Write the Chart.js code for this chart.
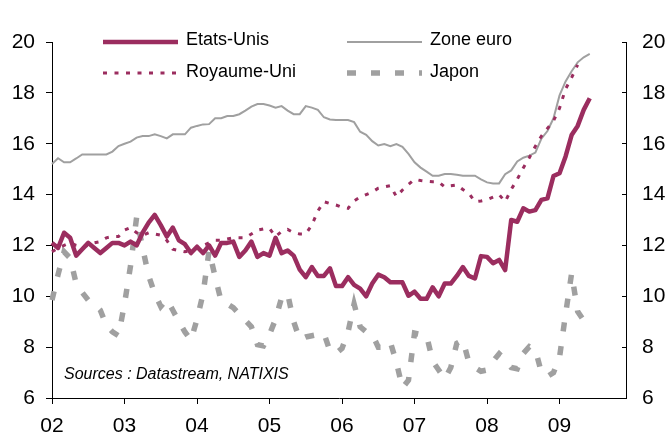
<!DOCTYPE html>
<html>
<head>
<meta charset="utf-8">
<script src="https://cdn.jsdelivr.net/npm/chart.js@4.4.1/dist/chart.umd.min.js"></script>
<style>
  html, body { margin: 0; padding: 0; background: #fff; }
  #wrap { width: 668px; height: 437px; }
</style>
</head>
<body>
<div id="wrap"><canvas id="savingChart" width="668" height="437"></canvas></div>
<script>
// Year tick labels (one tick every January, Jan 2002 .. Dec 2009 on the axis)
const yearTicks = ['02', '03', '04', '05', '06', '07', '08', '09'];

// Monthly values from Jan 2002
const usData = [12.1, 11.9, 12.5, 12.3, 11.6, 11.85, 12.1, 11.9, 11.7, 11.9, 12.1, 12.1,
  12.0, 12.15, 12.0, 12.5, 12.9, 13.2, 12.8, 12.35, 12.7, 12.2, 12.05, 11.7,
  11.95, 11.7, 12.0, 11.6, 12.1, 12.1, 12.15, 11.55, 11.8, 12.15, 11.55, 11.7,
  11.6, 12.3, 11.7, 11.8, 11.6, 11.05, 10.75, 11.15, 10.8, 10.8, 11.1, 10.4,
  10.4, 10.75, 10.45, 10.3, 10.0, 10.5, 10.85, 10.75, 10.55, 10.55, 10.55, 10.02,
  10.18, 9.9, 9.9, 10.35, 10.0, 10.5, 10.5, 10.8, 11.15, 10.8, 10.7, 11.58,
  11.55, 11.3, 11.43, 11.03, 13.0, 12.93, 13.46, 13.33, 13.39, 13.79, 13.85, 14.73,
  14.84, 15.5, 16.34, 16.7, 17.33, 17.79];

const euroData = [15.2, 15.43, 15.27, 15.27, 15.42, 15.58, 15.58, 15.58, 15.58, 15.58, 15.69, 15.91,
  16.0, 16.08, 16.24, 16.3, 16.3, 16.37, 16.3, 16.21, 16.37, 16.37, 16.37, 16.63,
  16.7, 16.76, 16.77, 17.0, 17.0, 17.09, 17.09, 17.16, 17.3, 17.46, 17.56, 17.56,
  17.5, 17.42, 17.48, 17.3, 17.16, 17.16, 17.48, 17.42, 17.33, 17.04, 16.95, 16.93,
  16.93, 16.93, 16.85, 16.47, 16.35, 16.1, 15.93, 15.99, 15.9, 15.99, 15.88, 15.6,
  15.27, 15.06, 14.9, 14.74, 14.74, 14.81, 14.81, 14.78, 14.74, 14.74, 14.74, 14.6,
  14.48, 14.44, 14.44, 14.8, 14.95, 15.3, 15.45, 15.53, 15.65, 16.2, 16.5, 17.0,
  17.9, 18.45, 18.85, 19.2, 19.4, 19.53];

const ukData = [11.75, 11.9, 12.0, 12.1, 12.0, 11.95, 12.0, 12.1, 12.15, 12.3, 12.35, 12.35,
  12.6, 12.7, 12.5, 12.4, 12.5, 12.45, 12.4, 12.2, 11.85, 11.8, 11.75, 11.8,
  11.9, 12.0, 12.1, 12.2, 12.2, 12.25, 12.3, 12.3, 12.3, 12.45, 12.6, 12.65,
  12.67, 12.35, 12.55, 12.63, 12.5, 12.45, 12.45, 12.8, 13.35, 13.72, 13.65, 13.59,
  13.5, 13.46, 13.75, 13.9, 14.0, 14.1, 14.25, 14.3, 14.35, 13.92, 14.18, 14.4,
  14.6, 14.55, 14.52, 14.5, 14.5, 14.3, 14.35, 14.38, 14.2, 14.05, 13.72, 13.75,
  13.8, 13.9, 14.0, 13.72, 14.2, 14.6, 15.05, 15.45, 15.9, 16.3, 16.6, 16.9,
  17.4, 18.15, 18.6, 19.1];

const japanData = [9.85, 10.85, 11.75, 11.5, 10.5, 10.15, 9.85, 9.7, 9.45, 8.85, 8.6, 8.45,
  9.7, 11.2, 13.1, 11.9, 10.8, 10.1, 9.6, 9.88, 9.45, 9.0, 8.6, 8.27,
  9.1, 10.1, 11.8, 10.77, 9.8, 9.7, 9.55, 9.3, 9.05, 8.8, 8.1, 8.05,
  8.5, 9.1, 9.95, 10.1, 9.0, 8.3, 8.4, 8.45, 8.5, 8.55, 7.85, 7.75,
  7.95, 8.6, 9.7, 8.8, 8.6, 8.5, 8.0, 8.0, 8.2, 7.4, 6.4, 6.7,
  8.55, 8.5, 8.45, 7.45, 7.1, 6.75, 7.2, 8.15, 8.28, 7.4, 7.2, 7.05,
  7.1, 7.45, 7.74, 7.5, 7.2, 7.15, 7.75, 8.02, 7.9, 7.0, 6.85, 7.0,
  7.6, 9.3, 10.9, 9.4, 9.05];

const seriesNames = ['Etats-Unis', 'Zone euro', 'Royaume-Uni', 'Japon'];

// month categories: Jan 2002 .. Dec 2009
const months = [];
yearTicks.forEach(y => {
  for (let m = 1; m <= 12; m++) months.push(m + '/' + y);
});

const PINK = '#9b2d5f';
const GREY = '#a0a0a0';

Chart.defaults.font.family = '"Liberation Sans", Arial, sans-serif';
Chart.defaults.color = '#000';

// legend drawn in a 2x2 block at the top of the plot
const legendSpots = [
  { x1: 103, x2: 178, y: 42, tx: 186, ty: 40 },
  { x1: 347, x2: 422, y: 42, tx: 430, ty: 40 },
  { x1: 103, x2: 178, y: 73, tx: 186, ty: 72 },
  { x1: 347, x2: 422, y: 73, tx: 430, ty: 72 }
];
const legendOrder = [0, 2, 1, 3]; // datasets: US, UK, euro, Japan

const overlayPlugin = {
  id: 'overlay',
  afterDraw(chart) {
    const ctx = chart.ctx;
    ctx.save();
    legendOrder.forEach((dsIndex, i) => {
      const ds = chart.data.datasets[dsIndex];
      const spot = legendSpots[i];
      ctx.beginPath();
      ctx.strokeStyle = ds.borderColor;
      ctx.lineWidth = ds.borderWidth;
      ctx.setLineDash(ds.borderDash || []);
      ctx.lineCap = 'butt';
      ctx.moveTo(spot.x1, spot.y);
      ctx.lineTo(spot.x2, spot.y);
      ctx.stroke();
      ctx.setLineDash([]);
      ctx.fillStyle = '#000';
      ctx.font = '18px "Liberation Sans", Arial, sans-serif';
      ctx.textBaseline = 'middle';
      ctx.textAlign = 'left';
      ctx.fillText(ds.label, spot.tx, spot.ty);
    });
    ctx.font = 'italic 16px "Liberation Sans", Arial, sans-serif';
    ctx.fillText('Sources : Datastream, NATIXIS', 64, 375);
    ctx.restore();
  }
};

new Chart(document.getElementById('savingChart'), {
  type: 'line',
  data: {
    labels: months,
    datasets: [
      { label: seriesNames[0], data: usData, borderColor: PINK, borderWidth: 4.5, borderJoinStyle: 'round', yAxisID: 'y' },
      { label: seriesNames[2], data: ukData, borderColor: PINK, borderWidth: 3, borderDash: [4, 7.5], yAxisID: 'y' },
      { label: seriesNames[1], data: euroData, borderColor: GREY, borderWidth: 2, yAxisID: 'y' },
      { label: seriesNames[3], data: japanData, borderColor: GREY, borderWidth: 5.5, borderDash: [9, 15], yAxisID: 'y' }
    ]
  },
  options: {
    responsive: false,
    animation: false,
    devicePixelRatio: 1,
    elements: { point: { radius: 0 }, line: { tension: 0, fill: false } },
    layout: { padding: { top: 42, left: 0, right: 0, bottom: 0 } },
    plugins: { legend: { display: false }, tooltip: { enabled: false } },
    scales: {
      x: {
        offset: false,
        border: { color: '#000', width: 1 },
        grid: {
          drawOnChartArea: false,
          tickLength: 6,
          color: c => (c.index % 12 === 0 ? '#000' : 'rgba(0,0,0,0)')
        },
        ticks: {
          autoSkip: false,
          maxRotation: 0,
          padding: 10,
          font: { size: 21 },
          callback: (v, i) => (i % 12 === 0 ? yearTicks[i / 12] : '')
        },
        afterFit: s => { s.height = 39; }
      },
      y: {
        position: 'left',
        min: 6, max: 20,
        border: { color: '#000', width: 1 },
        grid: { drawOnChartArea: false, tickLength: 6, color: '#000' },
        ticks: { stepSize: 2, padding: 11, font: { size: 21 } },
        afterFit: s => { s.width = 52; }
      },
      y2: {
        position: 'right',
        min: 6, max: 20,
        border: { color: '#000', width: 1 },
        grid: { drawOnChartArea: false, tickLength: -4, color: '#000' },
        ticks: { stepSize: 2, padding: 20, font: { size: 21 } },
        afterFit: s => { s.width = 42; }
      }
    }
  },
  plugins: [overlayPlugin]
});
</script>
</body>
</html>
